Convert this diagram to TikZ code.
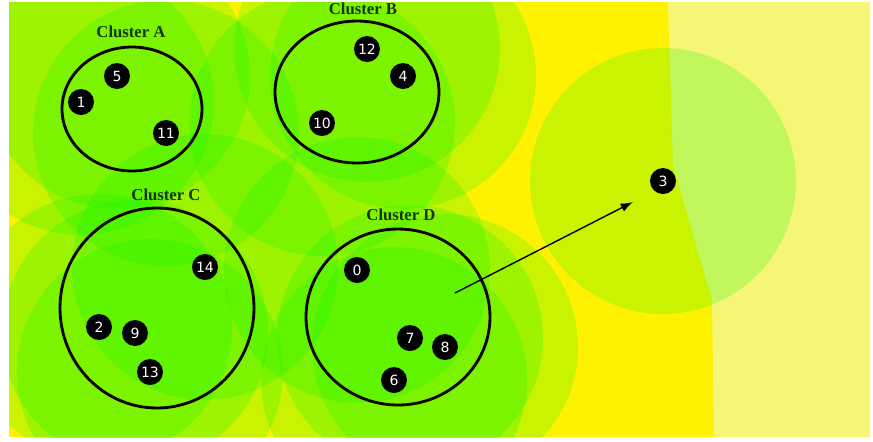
\documentclass[tikz,border=0pt]{standalone}
\usepackage{fontspec}
\setmainfont{Liberation Serif}
\newfontfamily\numfont{DejaVu Sans}
\usetikzlibrary{calc,arrows.meta}
\definecolor{meadow}{RGB}{0,248,0}
\definecolor{paleyellow}{RGB}{246,246,118}
\definecolor{labelgreen}{RGB}{18,55,14}
\def\drawrange{\fill[meadow,fill opacity=0.21]}
\def\drawcluster{\draw[black,line width=1.6pt]}
\def\sensornode{\node[circle,fill=black,text=white,minimum size=0.52cm,inner sep=0pt,font=\numfont\fontsize{8}{8}\selectfont]}
\def\clusterlabel{\node[text=labelgreen,font=\bfseries\fontsize{9.5}{10}\selectfont]}
% sensor id / x / y (pixels, y down)
\def\sensors{0/357/270, 1/81/102, 2/99/327, 3/663/181, 4/403/76, 5/117/76, 6/394/380, 7/410/338, 8/445/347, 9/135/333, 10/322/123, 11/166/133, 12/367/49, 13/150/372, 14/205/267}

\begin{document}
\begin{tikzpicture}[x=0.02cm,y=-0.02cm]
\useasboundingbox (0,0) rectangle (873,441);
\fill[white] (0,0) rectangle (873,441);
\coordinate (fieldtl) at (9,2);
\coordinate (fieldbr) at (870,437);

% ---------- the field
\fill[yellow] (fieldtl) rectangle (fieldbr);
\fill[paleyellow] (668,2) -- (673,165) -- (712,300) -- (714,437) -- (870,437) -- (870,2) -- cycle;

% sensing range of every sensor
\begin{scope}
\clip (fieldtl) rectangle (fieldbr);
\foreach \i/\x/\y in \sensors {\drawrange (\x,\y) circle (2.66cm);}
\end{scope}

% ---------- clusters
\coordinate (cA) at (132,109);
\coordinate (cB) at (357,92);
\coordinate (cC) at (157,308);
\coordinate (cD) at (398,317);
\drawcluster (cA) ellipse (1.4cm and 1.24cm);
\drawcluster (cB) ellipse (1.64cm and 1.42cm);
\drawcluster (cC) ellipse (1.94cm and 2cm);
\drawcluster (cD) ellipse (1.84cm and 1.76cm);
\clusterlabel (labA) at (131,32) {Cluster A};
\clusterlabel (labB) at (363,9) {Cluster B};
\clusterlabel (labC) at (166,195) {Cluster C};
\clusterlabel (labD) at (401,215) {Cluster D};

% ---------- sensors
\foreach \i/\x/\y in \sensors {\sensornode (s\i) at (\x,\y) {\i};}

% node 3 leaves cluster D
\coordinate (move) at (455,293);
\coordinate (target) at (633,202);
\draw[-{Latex[length=7pt,width=5pt]},line width=0.8pt] (move) -- (target);
\end{tikzpicture}
\end{document}
